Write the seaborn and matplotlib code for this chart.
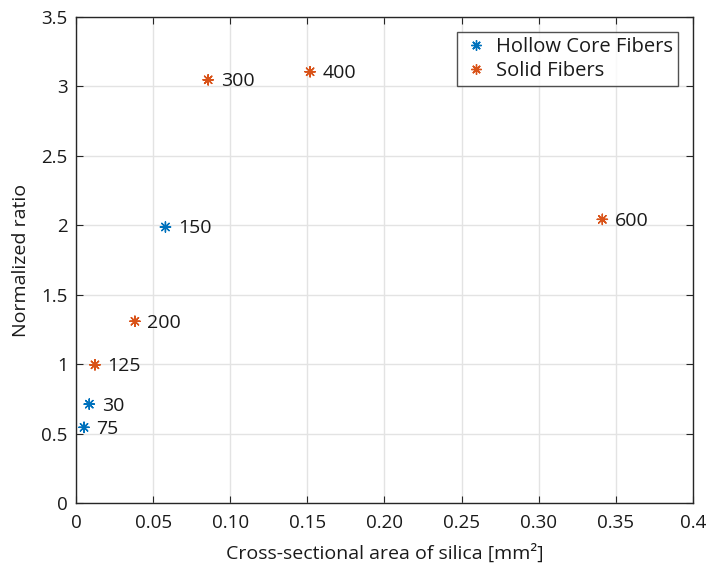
import matplotlib
matplotlib.use("Agg")
import matplotlib.pyplot as plt
import seaborn as sns
import pandas as pd

# Fiber measurements: cross-sectional silica area (mm^2) vs normalized ratio
hollow_labels = ["75", "30", "150"]
hollow_area = [0.0052, 0.0086, 0.0580]
hollow_ratio = [0.545, 0.712, 1.988]

solid_labels = ["125", "200", "300", "400", "600"]
solid_area = [0.0123, 0.0382, 0.0857, 0.1518, 0.3413]
solid_ratio = [0.995, 1.309, 3.048, 3.106, 2.043]

series_names = ["Hollow Core Fibers", "Solid Fibers"]
series_colors = ["#0072BD", "#D95319"]

x_ticks = [0, 0.05, 0.10, 0.15, 0.20, 0.25, 0.30, 0.35, 0.40]
x_tick_labels = ["0", "0.05", "0.10", "0.15", "0.20", "0.25", "0.30", "0.35", "0.4"]
y_ticks = [0, 0.5, 1, 1.5, 2, 2.5, 3, 3.5]
y_tick_labels = ["0", "0.5", "1", "1.5", "2", "2.5", "3", "3.5"]

df = pd.DataFrame({
    "area": hollow_area + solid_area,
    "ratio": hollow_ratio + solid_ratio,
    "label": hollow_labels + solid_labels,
    "type": [series_names[0]] * len(hollow_area) + [series_names[1]] * len(solid_area),
})

sns.set_theme(style="whitegrid")
plt.rcParams["font.family"] = ["Open Sans", "DejaVu Sans"]

fig = plt.figure(figsize=(7.07, 5.69), dpi=100)
ax = fig.add_axes([0.1075, 0.116, 0.8725, 0.854])

asterisk = (8, 2, 0)
sns.scatterplot(
    data=df, x="area", y="ratio", hue="type",
    palette=dict(zip(series_names, series_colors)),
    marker=asterisk, s=55, linewidth=1.0, ax=ax, legend=True, zorder=3,
)

for _, row in df.iterrows():
    ax.annotate(row["label"], (row["area"], row["ratio"]),
                xytext=(9, -1), textcoords="offset points",
                ha="left", va="center", fontsize=14, color="#1a1a1a")

ax.set_xlim(0, 0.4)
ax.set_ylim(0, 3.5)
ax.set_xticks(x_ticks)
ax.set_xticklabels(x_tick_labels)
ax.set_yticks(y_ticks)
ax.set_yticklabels(y_tick_labels)
ax.set_xlabel("Cross-sectional area of silica [mm²]", fontsize=14, color="#1a1a1a", labelpad=8)
ax.set_ylabel("Normalized ratio", fontsize=14, color="#1a1a1a", labelpad=8)

ax.set_facecolor("white")
ax.grid(True, color="#e3e3e3", linewidth=1.0)
for side in ["left", "right", "top", "bottom"]:
    ax.spines[side].set_visible(True)
    ax.spines[side].set_color("#262626")
    ax.spines[side].set_linewidth(1.0)
ax.tick_params(axis="both", direction="in", length=5, width=0.8, color="#262626",
               labelsize=13.5, labelcolor="#1a1a1a", top=True, right=True,
               bottom=True, left=True, pad=6)
ax.tick_params(axis="x", pad=8)

leg = ax.legend(loc="upper right", bbox_to_anchor=(0.9757, 0.969), frameon=True,
                fontsize=14.5, handletextpad=0.3, borderpad=0.25, labelspacing=0.18,
                handlelength=1.4, borderaxespad=0.0, fancybox=False)
leg.get_frame().set_edgecolor("#262626")
leg.get_frame().set_linewidth(1.0)
for t in leg.get_texts():
    t.set_color("#1a1a1a")

fig.savefig("out.png", dpi=100)
